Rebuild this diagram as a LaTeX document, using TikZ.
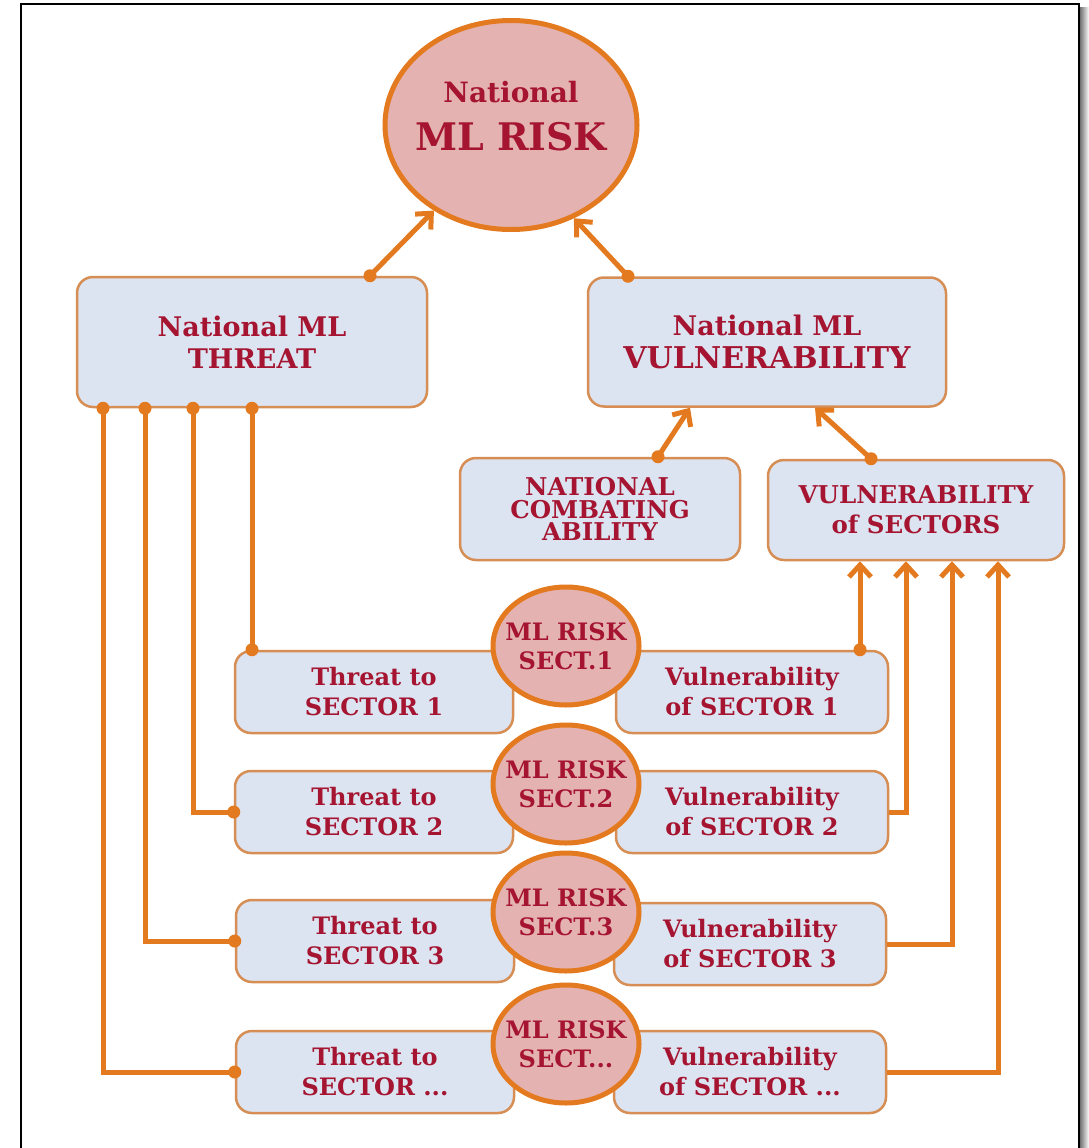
\documentclass[tikz,border=0pt]{standalone}
\usepackage{fontspec}
\setmainfont{DejaVu Serif}
\usetikzlibrary{arrows.meta,shapes.geometric}
\definecolor{orng}{RGB}{228,122,32}
\definecolor{boxline}{RGB}{214,142,84}
\definecolor{boxfill}{RGB}{220,228,241}
\definecolor{riskfill}{RGB}{229,178,178}
\definecolor{txt}{RGB}{165,20,48}
\newcommand{\fsz}[2]{\fontsize{#1}{#2}\selectfont}
\begin{document}
\begin{tikzpicture}[x=1pt,y=-1pt,
  box/.style={draw=boxline, line width=2.5pt, fill=boxfill, rounded corners=16pt,
    align=center, text=txt, inner sep=0pt, font=\bfseries},
  risk/.style={ellipse, draw=orng, line width=5pt, fill=riskfill, align=center,
    text=txt, inner xsep=-20pt, inner ysep=-20pt, font=\bfseries},
  conn/.style={draw=orng, line width=5pt},
  arr/.style={conn, -{Straight Barb[length=12pt,width=22pt]}},
  sbox/.style={box, minimum height=82pt, font=\bfseries\fsz{24}{30}},
  tbox/.style={sbox, minimum width=278pt},
  vbox/.style={sbox, minimum width=272pt},
  srisk/.style={risk, minimum width=146pt, minimum height=118pt, font=\bfseries\fsz{24}{29}}
]
\useasboundingbox (0,0) rectangle (1089,1148);
\clip (0,0) rectangle (1089,1148);
\fill[white] (0,0) rectangle (1089,1148);

% frame
\shade[left color=black!55, right color=white] (1080,8) rectangle (1089,1148);
\draw[line width=2.5pt, black] (21,1170) -- (21,4) -- (1079,4) -- (1079,1170);

% main boxes
\node[box, minimum width=350pt, minimum height=130pt, font=\bfseries\fsz{27}{32}] (threat) at (252,342) {National ML\\THREAT};
\node[box, minimum width=358pt, minimum height=129pt, font=\bfseries\fsz{27}{33}] (vuln) at (767,342) {National ML\\\fsz{30}{33}VULNERABILITY};
\node[box, minimum width=280pt, minimum height=102pt, font=\bfseries\fsz{24.5}{22.5}] (comb) at (600,509) {NATIONAL\\COMBATING\\ABILITY};
\node[box, minimum width=296pt, minimum height=100pt, font=\bfseries\fsz{24.5}{30}] (vs) at (916,510) {VULNERABILITY\\of SECTORS};

% sector boxes
\node[tbox] (t1) at (374,692) {Threat to\\SECTOR 1};
\node[vbox] (v1) at (752,692) {Vulnerability\\of SECTOR 1};
\node[tbox] (t2) at (374,812) {Threat to\\SECTOR 2};
\node[vbox] (v2) at (752,812) {Vulnerability\\of SECTOR 2};
\node[tbox] (t3) at (375,941) {Threat to\\SECTOR 3};
\node[vbox] (v3) at (750,944) {Vulnerability\\of SECTOR 3};
\node[tbox] (t4) at (375,1072) {Threat to\\SECTOR ...};
\node[vbox] (v4) at (750,1072) {Vulnerability\\of SECTOR ...};

% risk ellipses
\node[risk, minimum width=252pt, minimum height=209pt] (top) at (511,125)
  {\fsz{28}{30}National\\[18pt]\fsz{38}{47}ML RISK\rule[-18pt]{0pt}{0pt}};
\node[srisk] (r1) at (566,646) {ML RISK\\SECT.1};
\node[srisk] (r2) at (566,784) {ML RISK\\SECT.2};
\node[srisk] (r3) at (566,912) {ML RISK\\SECT.3};
\node[srisk] (r4) at (566,1044) {ML RISK\\SECT...};

% helper x positions
\coordinate (A1) at (370,0);
\coordinate (A2) at (628,0);
\coordinate (C1) at (658,0);
\coordinate (C2) at (690,0);
\coordinate (S1) at (871,0);
\coordinate (S2) at (815,0);
\coordinate (L1) at (103,0);
\coordinate (L2) at (145,0);
\coordinate (L3) at (193,0);
\coordinate (L4) at (252,0);
\coordinate (R1) at (860,0);
\coordinate (R2) at (906,0);
\coordinate (R3) at (952,0);
\coordinate (R4) at (998,0);

% top connectors
\draw[arr] (A1 |- threat.north) -- (top.228);
\draw[arr] (A2 |- vuln.north) -- (top.304);
\draw[arr] (C1 |- comb.north) -- (C2 |- vuln.south);
\draw[arr] (S1 |- vs.north) -- (S2 |- vuln.south);

% threat connectors
\draw[conn] (L4 |- threat.south) -- (L4 |- t1.north);
\draw[conn] (L3 |- threat.south) -- (L3 |- t2.west) -- (t2.west);
\draw[conn] (L2 |- threat.south) -- (L2 |- t3.west) -- (t3.west);
\draw[conn] (L1 |- threat.south) -- (L1 |- t4.west) -- (t4.west);

% vulnerability connectors
\draw[arr] (R1 |- v1.north) -- (R1 |- vs.south);
\draw[arr] (v2.east) -- (R2 |- v2.east) -- (R2 |- vs.south);
\draw[arr] (v3.east) -- (R3 |- v3.east) -- (R3 |- vs.south);
\draw[arr] (v4.east) -- (R4 |- v4.east) -- (R4 |- vs.south);

% dots
\foreach \p in {(A1 |- threat.north),(A2 |- vuln.north),(C1 |- comb.north),(S1 |- vs.north),
  (L1 |- threat.south),(L2 |- threat.south),(L3 |- threat.south),(L4 |- threat.south),
  (L4 |- t1.north),(t2.west),(t3.west),(t4.west),(R1 |- v1.north)}
  \fill[orng] \p circle (6.5pt);
\end{tikzpicture}
\end{document}
